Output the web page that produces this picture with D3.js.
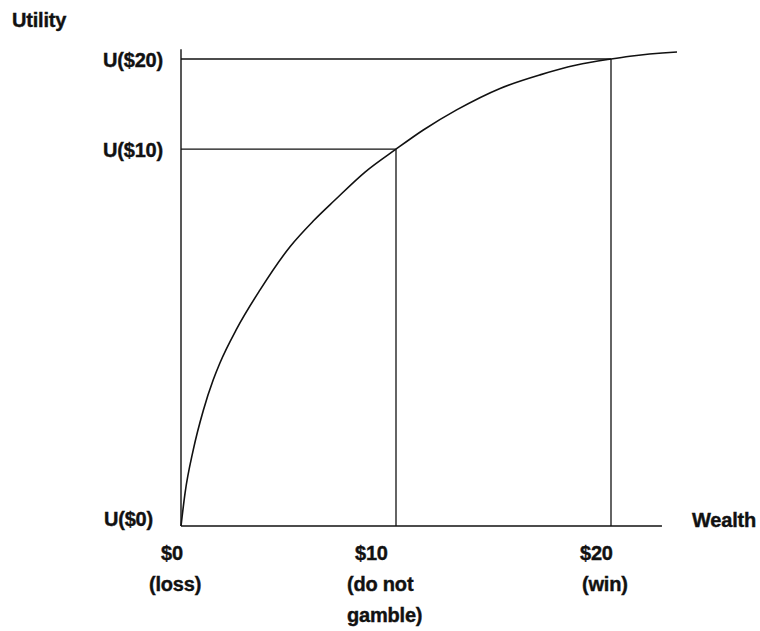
<!DOCTYPE html>
<html>
<head>
<meta charset="utf-8">
<script src="https://cdn.jsdelivr.net/npm/d3@7"></script>
<style>
  body { margin: 0; background: #fff; }
  text { font-family: "Liberation Sans", Arial, sans-serif; font-weight: bold; font-size: 20px; fill: #111; stroke: #111; stroke-width: 0.4px; letter-spacing: -0.2px; }
</style>
</head>
<body>
<div id="chart"></div>
<script>
// utility curve (wealth in $, utility with U($20) = 100)
let wealth  = [0, 0.19, 0.57, 1.04, 1.5, 1.81, 2.59, 3.67, 5.07, 6.15, 7.16, 8.56, 10, 11.27, 12.82, 14.84, 16.7, 18.4, 20, 20.88, 23.07];
let utility = [0, 7.1, 16.3, 24.8, 31.3, 34.9, 42.2, 50.5, 59.8, 65.3, 69.8, 75.8, 80.7, 84.8, 89.1, 93.7, 96.6, 98.7, 100, 100.6, 101.5];

// the three outcomes of the gamble
let outcomeWealth = [0, 10, 20];
let outcomeUtility = [0, 80.7, 100];
let xTickLabels = [["$0", "(loss)"], ["$10", "(do not", "gamble)"], ["$20", "(win)"]];
let yTickLabels = ["U($0)", "U($10)", "U($20)"];

let buildUtilityChart = function() {
  let width = 760, height = 631;
  let svg = d3.select('#chart')
    .append('svg')
    .attr('width', width)
    .attr('height', height);

  let x = d3.scaleLinear().domain([0, 20]).range([181, 611]);
  let y = d3.scaleLinear().domain([0, 100]).range([526, 59]);

  let stroke = '#111';

  // axes: plain lines, no ticks
  svg.append('line')
    .attr('x1', x(0)).attr('x2', x(0))
    .attr('y1', y(0)).attr('y2', y(102.1))
    .attr('stroke', stroke).attr('stroke-width', 1.4);
  svg.append('line')
    .attr('x1', x(0)).attr('x2', x(22.37))
    .attr('y1', y(0)).attr('y2', y(0))
    .attr('stroke', stroke).attr('stroke-width', 1.4);

  // guide lines for $10 and $20
  outcomeWealth.forEach(function(w, i) {
    if (i === 0) return;
    let u = outcomeUtility[i];
    svg.append('line')
      .attr('x1', x(0)).attr('x2', x(w))
      .attr('y1', y(u)).attr('y2', y(u))
      .attr('stroke', stroke).attr('stroke-width', 1.3);
    svg.append('line')
      .attr('x1', x(w)).attr('x2', x(w))
      .attr('y1', y(u)).attr('y2', y(0))
      .attr('stroke', stroke).attr('stroke-width', 1.3);
  });

  // the utility curve
  let line = d3.line()
    .x(function(d, i) { return x(wealth[i]); })
    .y(function(d) { return y(d); })
    .curve(d3.curveMonotoneX);
  svg.append('path')
    .datum(utility)
    .attr('d', line)
    .attr('fill', 'none')
    .attr('stroke', stroke)
    .attr('stroke-width', 1.6);

  // y tick labels
  yTickLabels.forEach(function(label, i) {
    svg.append('text')
      .attr('x', i === 0 ? 153 : 163)
      .attr('y', y(outcomeUtility[i]) + (i === 0 ? 0 : 8))
      .attr('text-anchor', 'end')
      .text(label);
  });

  // x tick labels, several lines each (first line offset, following lines offset)
  let firstShift = [-20, -41, -31];
  let restShift = [-32, -49, -29];
  let baselines = [560, 591, 622];
  xTickLabels.forEach(function(lines, i) {
    lines.forEach(function(s, j) {
      svg.append('text')
        .attr('x', x(outcomeWealth[i]) + (j === 0 ? firstShift[i] : restShift[i]))
        .attr('y', baselines[j])
        .text(s);
    });
  });

  // axis titles
  svg.append('text').attr('x', 12).attr('y', 27).text('Utility');
  svg.append('text').attr('x', 692).attr('y', 527).text('Wealth');
};

buildUtilityChart();
</script>
</body>
</html>
